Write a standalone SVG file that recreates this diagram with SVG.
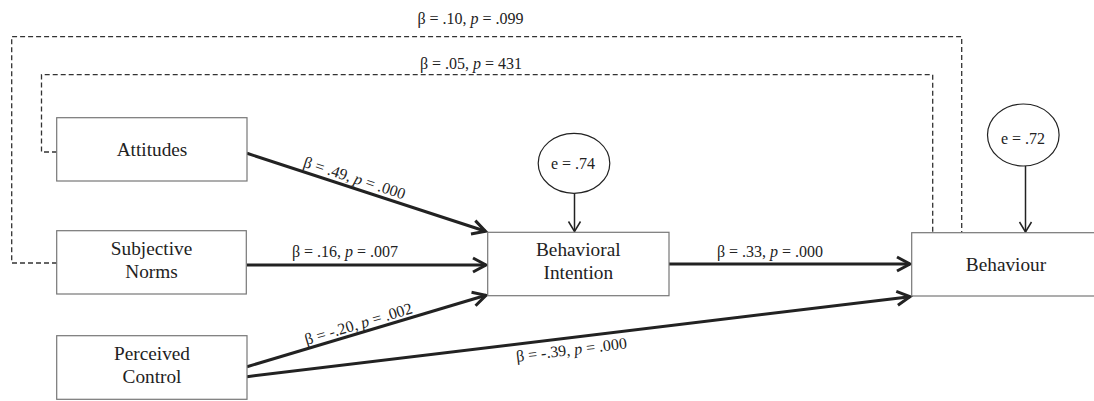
<svg xmlns="http://www.w3.org/2000/svg" width="1094" height="401" viewBox="0 0 1094 401">
<style>
  .box { fill: #fff; stroke: #777; stroke-width: 1.2; }
  .ell { fill: #fff; stroke: #222; stroke-width: 1.2; }
  .lbl { font-family: "Liberation Serif", "Times New Roman", serif; font-size: 19.3px; fill: #222; text-anchor: middle; }
  .coef { font-family: "Liberation Serif", "Times New Roman", serif; font-size: 16px; fill: #222; text-anchor: middle; }
  .e { font-family: "Liberation Serif", "Times New Roman", serif; font-size: 16px; fill: #222; text-anchor: middle; }
  .it { font-style: italic; }
  .thick { fill: none; stroke: #222; stroke-width: 3; marker-end: url(#ah); }
  .thin { fill: none; stroke: #222; stroke-width: 1.5; marker-end: url(#ahs); }
  .dash { fill: none; stroke: #333; stroke-width: 1.3; stroke-dasharray: 5 3; }
</style>
<defs>
  <marker id="ah" markerUnits="userSpaceOnUse" viewBox="-16 -10 20 20" refX="0" refY="0" markerWidth="20" markerHeight="20" orient="auto">
    <path d="M-13,-7 L0,0 L-13,7" fill="none" stroke="#222" stroke-width="3"/>
  </marker>
  <marker id="ahs" markerUnits="userSpaceOnUse" viewBox="-12 -8 14 16" refX="0" refY="0" markerWidth="14" markerHeight="16" orient="auto">
    <path d="M-10,-6 L0,0 L-10,6" fill="none" stroke="#222" stroke-width="1.5"/>
  </marker>
</defs>
<rect width="1094" height="401" fill="#fff"/>

<g id="connectors">
  <polyline class="dash" points="57,263 11.7,263 11.7,36.7 961.7,36.7 961.7,232.7"/>
  <polyline class="dash" points="57,152 41.5,152 41.5,74.7 932.7,74.7 932.7,232.7"/>
  <line class="thick" x1="247" y1="153.3" x2="485.5" y2="231.3"/>
  <line class="thick" x1="247" y1="265" x2="486" y2="265"/>
  <line class="thick" x1="247" y1="366.7" x2="486" y2="295.3"/>
  <line class="thick" x1="247" y1="376.7" x2="910" y2="296.7"/>
  <line class="thick" x1="669" y1="264" x2="910" y2="264"/>
  <line class="thin" x1="574.5" y1="193.3" x2="574.5" y2="231.5"/>
  <line class="thin" x1="1025.5" y1="166" x2="1025.5" y2="232"/>
  <text class="coef" x="470.5" y="24">β = .10, <tspan class="it">p</tspan> = .099</text>
  <text class="coef" x="471" y="69">β = .05, <tspan class="it">p</tspan> = 431</text>
  <text class="coef" x="353" y="183" transform="rotate(18.1 353 183)">β = .49, <tspan class="it">p</tspan> = .000</text>
  <text class="coef" x="345" y="257">β = .16, <tspan class="it">p</tspan> = .007</text>
  <text class="coef" x="360" y="329" transform="rotate(-16.7 360 329)">β = -.20, <tspan class="it">p</tspan> = .002</text>
  <text class="coef" x="572" y="355" transform="rotate(-6.88 572 355)">β = -.39, <tspan class="it">p</tspan> = .000</text>
  <text class="coef" x="770" y="257">β = .33, <tspan class="it">p</tspan> = .000</text>
</g>

<g id="attitudes">
  <rect class="box" x="56.7" y="117.7" width="190.3" height="63.3"/>
  <text class="lbl" x="152" y="155.7">Attitudes</text>
</g>
<g id="subjective-norms">
  <rect class="box" x="56.7" y="230.7" width="189.6" height="63.3"/>
  <text class="lbl" x="151.5" y="255">Subjective</text>
  <text class="lbl" x="151.5" y="278">Norms</text>
</g>
<g id="perceived-control">
  <rect class="box" x="56.7" y="335.7" width="190.3" height="63.6"/>
  <text class="lbl" x="152" y="360">Perceived</text>
  <text class="lbl" x="152" y="383">Control</text>
</g>
<g id="behavioral-intention">
  <rect class="box" x="487.7" y="232.3" width="181.3" height="63.4"/>
  <text class="lbl" x="578.3" y="256">Behavioral</text>
  <text class="lbl" x="578.3" y="279">Intention</text>
</g>
<g id="behaviour">
  <rect class="box" x="911.7" y="232.7" width="190" height="63.3"/>
  <text class="lbl" x="1006" y="270.7">Behaviour</text>
</g>
<g id="error-bi">
  <ellipse class="ell" cx="574" cy="163.3" rx="35.8" ry="30"/>
  <text class="e" x="573" y="168.5">e = .74</text>
</g>
<g id="error-b">
  <ellipse class="ell" cx="1023.3" cy="135" rx="35.8" ry="31"/>
  <text class="e" x="1023" y="144.3">e = .72</text>
</g>
</svg>
